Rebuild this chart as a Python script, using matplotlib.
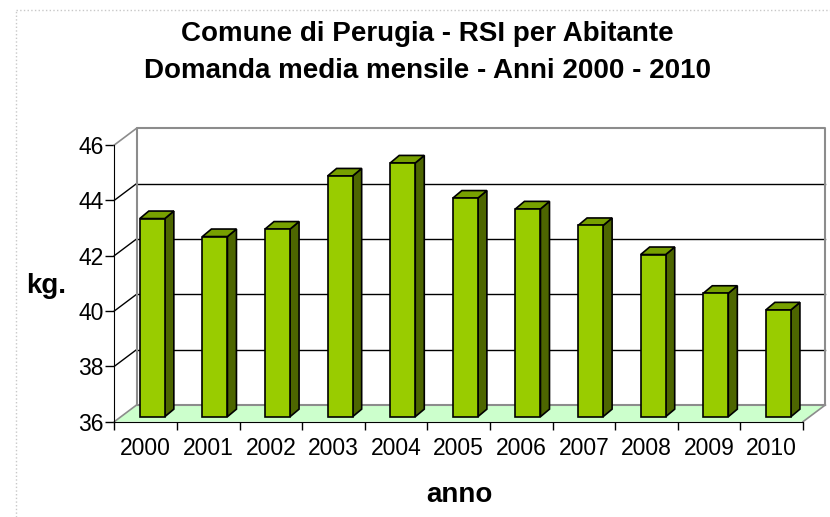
import numpy as np
import matplotlib
matplotlib.use("Agg")
import matplotlib.pyplot as plt
from matplotlib.patches import Polygon
from matplotlib.lines import Line2D

plt.rcParams['font.family'] = ['Liberation Sans', 'DejaVu Sans']

# dati: RSI per abitante, domanda media mensile (kg)
anni = ['2000', '2001', '2002', '2003', '2004', '2005',
        '2006', '2007', '2008', '2009', '2010']
kg = [43.16, 42.51, 42.78, 44.70, 45.17, 43.90,
      43.51, 42.91, 41.86, 40.46, 39.86]
y_ticks = [36, 38, 40, 42, 44, 46]

titolo1 = "Comune di Perugia - RSI per Abitante"
titolo2 = "Domanda media mensile - Anni 2000 - 2010"

# colori stile Excel
c_front = '#99cc00'
c_top = '#77a000'
c_side = '#4d6600'
c_floor = '#ccffcc'
c_wall = '#8c8c8c'

W, H = 830, 517
fig = plt.figure(figsize=(W / 100, H / 100), dpi=100)
ax = fig.add_axes([114.3 / W, 1 - 421.7 / H, (803 - 114.3) / W, (421.7 - 145) / H])
ax.patch.set_visible(False)

ymin, ymax = 36, 46
n = len(anni)
ax.set_xlim(0, n)
ax.set_ylim(ymin, ymax)

# profondita' finta 3d (in unita' dati)
bdx, bdy = 0.356, 0.605      # parete di fondo
fdx, fdy = 0.107, 0.181      # faccia frontale barre
ddx, ddy = 0.144, 0.272      # spessore barre
w = 0.40

# pavimento
floor = Polygon([(0, ymin), (n, ymin), (n + bdx, ymin + bdy), (bdx, ymin + bdy)],
                closed=True, facecolor=c_floor, edgecolor='none', clip_on=False, zorder=1)
ax.add_patch(floor)
ax.plot([bdx, n + bdx], [ymin + bdy, ymin + bdy], color=c_wall, lw=1.5, clip_on=False, zorder=2)
ax.plot([n, n + bdx], [ymin, ymin + bdy], color=c_wall, lw=1.2, clip_on=False, zorder=2)
ax.plot([0, bdx], [ymin, ymin + bdy], color=c_wall, lw=1.2, clip_on=False, zorder=2)

# griglia parete di fondo e parete laterale
for v in y_ticks[1:-1]:
    ax.plot([bdx, n + bdx], [v + bdy, v + bdy], color='black', lw=1, clip_on=False, zorder=2)
    ax.plot([0, bdx], [v, v + bdy], color='black', lw=1, clip_on=False, zorder=2)
ax.plot([0, bdx], [ymax, ymax + bdy], color=c_wall, lw=1.2, clip_on=False, zorder=2)

# bordi parete di fondo
ax.plot([bdx, bdx, n + bdx, n + bdx], [ymin + bdy, ymax + bdy, ymax + bdy, ymin + bdy],
        color=c_wall, lw=1.5, clip_on=False, zorder=2)

# barre
x = np.arange(n) + 0.5
ax.bar(x + fdx, np.array(kg) - ymin, bottom=ymin + fdy, width=w, color=c_front,
       edgecolor='black', lw=1.2, zorder=5, clip_on=False)
for xi, v in zip(x, kg):
    xl = xi + fdx - w / 2
    xr = xi + fdx + w / 2
    yb = ymin + fdy
    yt = v + fdy
    side = Polygon([(xr, yb), (xr + ddx, yb + ddy), (xr + ddx, yt + ddy), (xr, yt)],
                   closed=True, facecolor=c_side, edgecolor='black', lw=1.2, clip_on=False, zorder=4)
    top = Polygon([(xl, yt), (xr, yt), (xr + ddx, yt + ddy), (xl + ddx, yt + ddy)],
                  closed=True, facecolor=c_top, edgecolor='black', lw=1.2, clip_on=False, zorder=4)
    ax.add_patch(side)
    ax.add_patch(top)

# assi
for s in ['top', 'right']:
    ax.spines[s].set_visible(False)
ax.spines['left'].set_zorder(6)
ax.spines['bottom'].set_zorder(6)
ax.set_yticks(y_ticks)
ax.set_yticklabels([str(t) for t in y_ticks])
ax.tick_params(axis='y', direction='out', length=6.5, width=1, labelsize=16.5, pad=1)
ax.set_xticks(np.arange(n + 1))
ax.set_xticklabels([])
ax.set_xticks(x, minor=True)
ax.set_xticklabels(anni, minor=True)
ax.tick_params(axis='x', which='major', direction='out', length=5.8, width=1)
ax.tick_params(axis='x', which='minor', length=0, labelsize=16.5, pad=11)

# testi
fig.text(427 / W, 1 - 41 / H, titolo1, ha='center', va='baseline', fontsize=20, fontweight='bold')
fig.text(427 / W, 1 - 78.5 / H, titolo2, ha='center', va='baseline', fontsize=20, fontweight='bold')
fig.text(46 / W, 1 - 286 / H, 'kg.', ha='center', va='center', fontsize=20, fontweight='bold')
fig.text(459 / W, 1 - 495 / H, 'anno', ha='center', va='center', fontsize=20, fontweight='bold')

# bordo tratteggiato dell'area grafico
fig.add_artist(Line2D([16 / W, 16 / W], [0, 1 - 10 / H], color='#c8c8c8', lw=1, ls=':'))
fig.add_artist(Line2D([16 / W, 1], [1 - 10 / H, 1 - 10 / H], color='#c8c8c8', lw=1, ls=':'))

plt.savefig('out.png', dpi=100)
